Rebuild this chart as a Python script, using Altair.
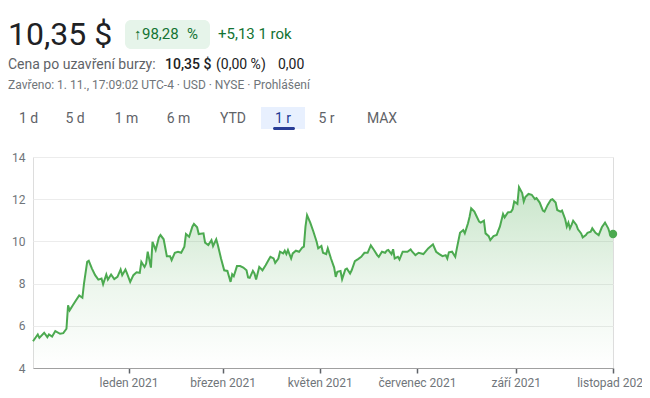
import json
import altair as alt
import pandas as pd

# ---- data ----
dates = [
    "2020-11-02", "2020-11-05", "2020-11-06", "2020-11-09", "2020-11-11", "2020-11-12", "2020-11-14",
    "2020-11-16", "2020-11-19", "2020-11-21", "2020-11-23", "2020-11-24", "2020-11-25", "2020-11-27",
    "2020-11-29",
    "2020-12-01", "2020-12-03", "2020-12-04", "2020-12-06", "2020-12-07", "2020-12-09", "2020-12-11",
    "2020-12-13", "2020-12-15", "2020-12-16", "2020-12-18", "2020-12-19", "2020-12-21", "2020-12-23",
    "2020-12-25", "2020-12-27", "2020-12-28", "2020-12-30", "2020-12-31",
    "2021-01-02", "2021-01-04", "2021-01-06", "2021-01-08", "2021-01-09", "2021-01-11", "2021-01-12",
    "2021-01-13", "2021-01-15", "2021-01-16", "2021-01-18", "2021-01-20", "2021-01-21", "2021-01-23",
    "2021-01-25", "2021-01-27", "2021-01-28", "2021-01-30",
    "2021-02-01", "2021-02-03", "2021-02-05", "2021-02-06", "2021-02-08", "2021-02-10", "2021-02-11",
    "2021-02-13", "2021-02-14", "2021-02-17", "2021-02-18", "2021-02-20", "2021-02-22", "2021-02-23",
    "2021-02-25", "2021-02-26", "2021-02-28",
    "2021-03-02", "2021-03-04", "2021-03-06", "2021-03-07", "2021-03-08", "2021-03-10", "2021-03-12",
    "2021-03-14", "2021-03-16", "2021-03-17", "2021-03-18", "2021-03-20", "2021-03-21", "2021-03-22",
    "2021-03-24", "2021-03-26", "2021-03-28", "2021-03-30", "2021-03-31",
    "2021-04-02", "2021-04-03", "2021-04-05", "2021-04-06", "2021-04-08", "2021-04-09", "2021-04-10",
    "2021-04-11", "2021-04-13", "2021-04-14", "2021-04-16", "2021-04-18", "2021-04-20", "2021-04-21",
    "2021-04-22", "2021-04-23", "2021-04-25", "2021-04-27", "2021-04-29", "2021-04-30",
    "2021-05-02", "2021-05-03", "2021-05-05", "2021-05-06", "2021-05-08", "2021-05-10", "2021-05-11",
    "2021-05-12", "2021-05-14", "2021-05-15", "2021-05-17", "2021-05-18", "2021-05-20", "2021-05-21",
    "2021-05-23", "2021-05-25", "2021-05-27", "2021-05-29", "2021-05-31",
    "2021-06-02", "2021-06-04", "2021-06-06", "2021-06-07", "2021-06-09", "2021-06-11", "2021-06-12",
    "2021-06-13", "2021-06-15", "2021-06-16", "2021-06-17", "2021-06-19", "2021-06-20", "2021-06-22",
    "2021-06-25", "2021-06-27", "2021-06-28", "2021-06-30",
    "2021-07-02", "2021-07-05", "2021-07-08", "2021-07-11", "2021-07-13", "2021-07-15", "2021-07-17",
    "2021-07-19", "2021-07-20", "2021-07-21", "2021-07-23", "2021-07-25", "2021-07-26", "2021-07-28",
    "2021-07-30", "2021-07-31",
    "2021-08-02", "2021-08-03", "2021-08-04", "2021-08-06", "2021-08-07", "2021-08-09", "2021-08-10",
    "2021-08-12", "2021-08-13", "2021-08-15", "2021-08-16", "2021-08-18", "2021-08-20", "2021-08-21",
    "2021-08-22", "2021-08-24", "2021-08-25", "2021-08-27", "2021-08-29", "2021-08-30", "2021-08-31",
    "2021-09-02", "2021-09-03", "2021-09-05", "2021-09-06", "2021-09-07", "2021-09-09", "2021-09-11",
    "2021-09-13", "2021-09-14", "2021-09-16", "2021-09-18", "2021-09-19", "2021-09-21", "2021-09-23",
    "2021-09-24", "2021-09-26", "2021-09-27", "2021-09-29", "2021-09-30",
    "2021-10-02", "2021-10-03", "2021-10-04", "2021-10-05", "2021-10-06", "2021-10-07", "2021-10-09",
    "2021-10-10", "2021-10-12", "2021-10-13", "2021-10-15", "2021-10-16", "2021-10-18", "2021-10-19",
    "2021-10-21", "2021-10-23", "2021-10-25", "2021-10-27", "2021-10-29", "2021-10-30",
    "2021-11-01",
]

prices = [
    5.27, 5.59, 5.43, 5.67, 5.46, 5.59, 5.49, 5.75, 5.62, 5.65, 5.86, 6.97, 6.73, 6.97, 7.21,
    7.44, 7.33, 8.00, 9.03, 9.08, 8.71, 8.40, 8.19, 8.24, 7.97, 8.43, 8.19, 8.43, 8.21, 8.32, 8.67,
    8.40, 8.67, 8.48,
    8.08, 8.40, 8.54, 8.51, 9.03, 8.79, 8.95, 9.51, 8.76, 9.98, 9.59, 10.19, 10.30, 10.10, 9.30,
    9.30, 9.11, 9.46,
    9.51, 9.46, 9.75, 10.35, 10.22, 10.70, 10.83, 10.67, 10.35, 10.38, 9.94, 9.83, 10.06, 9.78,
    10.10, 9.83, 9.19,
    8.63, 8.60, 8.08, 8.44, 8.35, 8.83, 8.83, 8.76, 8.63, 8.29, 8.27, 8.60, 8.48, 8.19, 8.79, 8.63,
    8.87, 9.14, 9.27,
    9.19, 8.98, 9.19, 9.51, 9.43, 9.56, 9.40, 9.59, 9.19, 9.43, 9.56, 9.51, 9.71, 9.75, 10.70, 11.24,
    10.89, 10.46, 9.98, 9.67,
    9.78, 9.46, 9.40, 9.67, 9.19, 8.76, 8.32, 8.56, 8.60, 8.21, 8.67, 8.71, 8.48, 8.63, 9.06, 9.16,
    9.27, 9.46, 9.46,
    9.81, 9.59, 9.35, 9.27, 9.51, 9.46, 9.56, 9.59, 9.40, 9.63, 9.19, 9.27, 9.14, 9.51, 9.51, 9.62,
    9.51, 9.35,
    9.46, 9.40, 9.67, 9.86, 9.51, 9.40, 9.30, 9.35, 9.19, 9.48, 9.51, 9.27, 9.67, 10.41, 10.54, 10.38,
    10.86, 11.17, 11.57, 11.41, 11.25, 10.94, 10.89, 10.98, 10.38, 10.25, 10.06, 10.25, 10.30, 10.51,
    10.70, 11.30, 11.14, 11.37, 11.40, 11.52, 11.89,
    11.78, 12.57, 12.29, 11.89, 12.10, 12.25, 12.21, 12.00, 12.05, 11.84, 11.46, 11.41, 11.73, 11.97,
    12.00, 11.84, 11.49, 11.41, 11.46,
    11.05, 10.70, 10.89, 10.62, 10.78, 10.98, 10.78, 10.57, 10.38, 10.19, 10.30, 10.41, 10.46, 10.62,
    10.41, 10.30, 10.67, 10.89, 10.62, 10.38,
    10.35,
]

y_ticks = [4, 6, 8, 10, 12, 14]
x_tick_dates = [(2021, 1), (2021, 3), (2021, 5), (2021, 7), (2021, 9), (2021, 11)]
month_names = ["leden", "únor", "březen", "duben", "květen", "červen", "červenec",
               "srpen", "září", "říjen", "listopad", "prosinec"]

price_text = "10,35 $"
change_arrow = "↑"
change_pct = "98,28"
change_pct_sign = "%"
change_abs = "+5,13 1 rok"
close_label = "Cena po uzavření burzy:"
close_value = "10,35 $"
close_pct = "(0,00 %)"
close_abs = "0,00"
info_line = "Zavřeno: 1. 11., 17:09:02 UTC-4 · USD · NYSE · Prohlášení"
ranges = ["1 d", "5 d", "1 m", "6 m", "YTD", "1 r", "5 r", "MAX"]
selected_range = "1 r"

# ---- chart ----
df = pd.DataFrame({"date": dates, "price": prices})
last = df.tail(1)

FONT = "Roboto"
LINE = "#4caa50"

x_scale = alt.Scale(type="utc", domain=[alt.DateTime(year=2020, month=11, date=2, utc=True),
                                        alt.DateTime(year=2021, month=11, date=1, utc=True)])
y_scale = alt.Scale(domain=[4, 14], zero=False, nice=False)

label_expr = (json.dumps(month_names, ensure_ascii=False)
              + "[utcmonth(datum.value)] + ' ' + utcyear(datum.value)")

x_axis = alt.Axis(
    values=[alt.DateTime(year=y, month=m, date=1, utc=True) for y, m in x_tick_dates],
    labelExpr=label_expr, title=None, grid=False,
    domainColor="#a0a0a0", domainWidth=1,
    tickColor="#5f6368", tickWidth=1.5, tickSize=5,
    labelColor="#70757a", labelFontSize=12, labelFont=FONT, labelPadding=4,
    labelOverlap=False, labelFlush=False,
)
y_axis = alt.Axis(
    values=y_ticks, title=None, domain=False, ticks=False,
    grid=True, gridColor="#ececec", gridWidth=1,
    labelColor="#70757a", labelFontSize=12, labelFont=FONT, labelPadding=8,
)

gradient = alt.Gradient(
    gradient="linear",
    stops=[alt.GradientStop(color="rgba(76,170,80,0.30)", offset=0),
           alt.GradientStop(color="rgba(76,170,80,0.10)", offset=0.55),
           alt.GradientStop(color="rgba(76,170,80,0.0)", offset=1)],
    x1=1, x2=1, y1=0, y2=1,
)

area = alt.Chart(df).mark_area(color=gradient).encode(
    x=alt.X("date:T", scale=x_scale, axis=x_axis),
    y=alt.Y("price:Q", scale=y_scale, axis=y_axis),
    y2=alt.datum(4),
)
line = alt.Chart(df).mark_line(color=LINE, strokeWidth=2).encode(
    x=alt.X("date:T", scale=x_scale),
    y=alt.Y("price:Q", scale=y_scale),
)
dot = alt.Chart(last).mark_point(filled=True, color=LINE, size=70, opacity=1).encode(
    x=alt.X("date:T", scale=x_scale),
    y=alt.Y("price:Q", scale=y_scale),
)

one = pd.DataFrame({"k": [0]})


def txt(text, x, y, size, color, weight="normal", align="left"):
    return alt.Chart(one).mark_text(
        text=text, font=FONT, fontSize=size, color=color, fontWeight=weight,
        align=align, baseline="alphabetic",
    ).encode(x=alt.value(x), y=alt.value(y))


def box(x, x2, y, y2, color, r=0):
    return alt.Chart(one).mark_rect(color=color, cornerRadius=r).encode(
        x=alt.value(x), x2=alt.value(x2), y=alt.value(y), y2=alt.value(y2))


header = [
    txt(price_text, -25, -112, 32, "#202124"),
    box(92, 177, -137, -108, "#e6f4ea", 6),
    txt(change_arrow, 101, -118, 15, "#137333"),
    txt(change_pct, 109, -118, 15, "#137333"),
    txt(change_pct_sign, 154, -118, 15, "#137333"),
    txt(change_abs, 185, -118, 15, "#137333"),
    txt(close_label, -25, -88, 14, "#5f6368"),
    txt(close_value, 132, -88, 14, "#202124", weight=500),
    txt(close_pct, 183, -88, 14, "#202124"),
    txt(close_abs, 245, -88, 14, "#202124"),
    txt(info_line, -25, -68, 12, "#70757a"),
]

btn_centers = [-4.5, 42, 93.5, 145.5, 200, 250, 293.5, 349]
buttons = [box(228, 272, -50, -28, "#e8f0fe"), box(240, 262, -30, -27, "#283c96", 1.5)]
for name, cx in zip(ranges, btn_centers):
    col = "#1f3a93" if name == selected_range else "#5f6368"
    buttons.append(txt(name, cx, -34, 14, col, align="center"))

chart = alt.layer(area, line, dot, *header, *buttons).properties(
    width=580, height=211,
    padding={"left": 25, "top": 149, "right": 29, "bottom": 22},
    autosize=alt.AutoSizeParams(type="none"),
).configure_view(stroke=None).configure(background="white")

chart.save("out.html", embed_options={"renderer": "svg", "actions": False})
